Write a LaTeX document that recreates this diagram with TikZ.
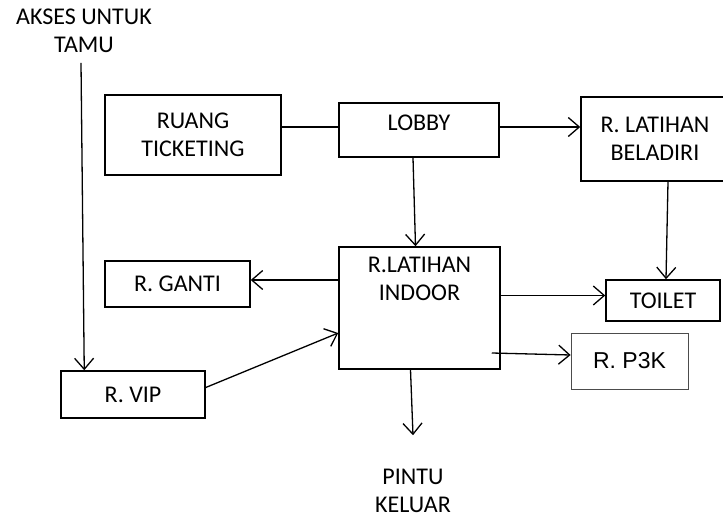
\documentclass[tikz,border=0pt]{standalone}
\usepackage{fontspec}
\setmainfont{Carlito}
\newfontfamily\arialfont{Liberation Sans}
\usepackage{tikz}
\usetikzlibrary{arrows.meta}
\usetikzlibrary{positioning}
\tikzset{>={Straight Barb[length=11pt,width=19pt]}}
\tikzset{ruang/.style={rectangle,draw,line width=1.5pt,inner sep=0pt,align=center}}

\begin{document}
\begin{tikzpicture}[x=1pt,y=-1pt,line width=1.3pt,font=\fontsize{24}{28}\selectfont]
    \clip (0,0) rectangle (723,527);
    \node at (84, 31) [align=center] (akses) {AKSES UNTUK\\TAMU};
    \node at (193, 135) [ruang,minimum width=176,minimum height=80] (ticket) {RUANG\\TICKETING};
    \node at (419, 130) [ruang,minimum width=160,minimum height=54,text depth=14pt] (lobby) {LOBBY};
    \node at (655, 139) [ruang,minimum width=148,minimum height=84] (beladiri) {R. LATIHAN\\BELADIRI};
    \node at (419.5, 308) [ruang,minimum width=161,minimum height=122] (indoor) {};
    \node [align=center,below=7pt of indoor.north] (indoor_t) {R.LATIHAN\\INDOOR};
    \node at (177.5, 284) [ruang,minimum width=145,minimum height=46] (ganti) {R. GANTI};
    \node at (133, 394.5) [ruang,minimum width=144,minimum height=47] (vip) {R. VIP};
    \node at (663, 300.5) [ruang,minimum width=114,minimum height=41] (toilet) {TOILET};
    \node at (629.5, 361) [ruang,line width=0.8pt,draw=black!70,minimum width=117,minimum height=56,font=\arialfont\fontsize{23}{27}\selectfont] (p3k) {R. P3K};
    \node at (413, 491) [align=center] (pintu) {PINTU\\KELUAR};
    \draw [->] ([xshift=-3pt,yshift=-6pt]akses.south) to ([xshift=24pt]vip.north west);
    \draw ([yshift=3pt]lobby.west) to ([yshift=3pt]lobby.west -| ticket.east);
    \draw [->] ([yshift=3pt]lobby.east) to ([yshift=3pt]lobby.east -| beladiri.west);
    \draw [->] ([xshift=-6pt]lobby.south) to ([xshift=-4pt]indoor.north);
    \draw [->] ([yshift=4pt]ganti.east -| indoor.west) to ([yshift=4pt]ganti.east);
    \draw [->] ([yshift=7pt]vip.east) to ([yshift=-25pt]indoor.west);
    \draw [->] ([yshift=5pt]toilet.west -| indoor.east) to ([yshift=5pt]toilet.west);
    \draw [->] ([xshift=13pt]beladiri.south) to ([xshift=3pt]toilet.north);
    \draw [->] ([xshift=-9pt,yshift=-45pt]indoor.east) to ([yshift=6pt]p3k.west);
    \draw [->] ([xshift=-9pt]indoor.south) to ([yshift=30pt]pintu.north);
  \end{tikzpicture}
\end{document}
